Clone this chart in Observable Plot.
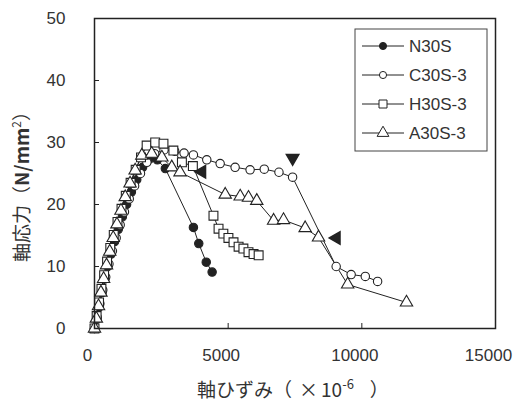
<!DOCTYPE html>
<html><head><meta charset="utf-8">
<script src="https://cdn.jsdelivr.net/npm/d3@7"></script>
<script src="https://cdn.jsdelivr.net/npm/@observablehq/plot@0.6"></script>
<style>body{margin:0;background:#fff} svg{display:block}</style>
</head><body><div id="chart"></div>
<script>
const seriesNames = ["N30S", "C30S-3", "H30S-3", "A30S-3"];

const n30sX = [0, 90, 180, 280, 390, 500, 620, 750, 890, 1040, 1200, 1380, 1580, 1800, 2050, 2350, 2650, 3700, 3900, 4180, 4400];
const n30sY = [0, 1.5, 3.5, 5.8, 8.0, 10.0, 12.0, 14.0, 16.0, 18.0, 20.0, 22.0, 24.0, 26.0, 27.3, 27.2, 25.8, 16.3, 13.7, 10.7, 9.1];

const c30sX = [0, 100, 200, 310, 420, 540, 670, 810, 960, 1120, 1300, 1500, 1720, 1960, 2250, 2600, 3000, 3350, 3700, 4200, 4700, 5260, 5820, 6350, 6900, 7410, 9040, 9600, 10130, 10590];
const c30sY = [0, 1.8, 4.0, 6.2, 8.3, 10.4, 12.5, 14.6, 16.7, 18.8, 20.9, 23.0, 25.0, 26.8, 28.2, 28.8, 28.6, 28.3, 28.0, 27.2, 26.6, 26.0, 25.6, 25.7, 25.2, 24.4, 10.0, 8.7, 8.4, 7.6];

const h30sX = [0, 80, 170, 260, 360, 470, 590, 720, 860, 1010, 1170, 1350, 1540, 1740, 1950, 2270, 2580, 2950, 3270, 3680, 4450, 4640, 4820, 5010, 5200, 5390, 5570, 5760, 5950, 6140];
const h30sY = [0, 2.0, 4.2, 6.4, 8.6, 10.8, 13.0, 15.1, 17.2, 19.3, 21.4, 23.5, 25.6, 27.6, 29.5, 30.0, 29.8, 28.7, 26.8, 26.2, 18.2, 16.1, 15.3, 14.6, 13.9, 13.2, 12.9, 12.3, 12.0, 11.8];

const a30sX = [0, 70, 150, 240, 340, 450, 570, 700, 840, 990, 1150, 1330, 1520, 1770, 2140, 2520, 2890, 3200, 4890, 5450, 5760, 6070, 6700, 7070, 7880, 8380, 9470, 11670];
const a30sY = [0, 1.6, 3.6, 5.8, 8.0, 10.2, 12.4, 14.6, 16.8, 19.0, 21.2, 23.4, 25.5, 27.9, 28.2, 27.6, 26.0, 25.2, 21.6, 21.3, 21.1, 20.6, 17.4, 17.5, 16.2, 14.7, 7.1, 4.2];

// filled triangle markers (annotations)
const markX = [4020, 7410, 9050];
const markY = [25.3, 27.5, 14.6];
const markDir = ["left", "down", "left"];

const xTickValues = [0, 5000, 10000, 15000];
const yTickValues = [0, 10, 20, 30, 40, 50];
const xInnerTicks = [5000, 10000];
const yInnerTicks = [10, 20, 30, 40];

const seriesX = [n30sX, c30sX, h30sX, a30sX];
const seriesY = [n30sY, c30sY, h30sY, a30sY];
const symbols = ["circle", "circle", "square", "triangle"];
const fills = ["#222", "white", "white", "white"];
const radii = [4.2, 4.2, 5, 4.6];

const rows = [];
seriesNames.forEach((s, i) => seriesX[i].forEach((x, j) => rows.push({series: s, x, y: seriesY[i][j]})));
const marks = markX.map((x, i) => ({x, y: markY[i], rot: markDir[i] === "down" ? 180 : -90}));

const W = 521, H = 403, ML = 94, MR = 26, MT = 18, MB = 75;
const plotW = W - ML - MR, plotH = H - MT - MB;
const ink = "#222";
const font = "'Liberation Sans', Arial, sans-serif";

const plot = Plot.plot({
  width: W, height: H,
  marginLeft: ML, marginRight: MR, marginTop: MT, marginBottom: MB,
  style: {fontFamily: font, background: "white", color: "#333"},
  x: {domain: [0, 15000]},
  y: {domain: [0, 50]},
  marks: [
    Plot.line(rows, {x: "x", y: "y", z: "series", stroke: ink, strokeWidth: 1}),
    ...seriesNames.map((s, i) => Plot.dot(rows.filter(d => d.series === s), {
      x: "x", y: "y", symbol: symbols[i], r: radii[i], fill: fills[i], stroke: ink, strokeWidth: 1.1
    })),
    Plot.dot(marks, {x: "x", y: "y", symbol: "triangle", rotate: "rot", r: 4.6, fill: ink, stroke: ink}),
    Plot.tickY(yInnerTicks, {y: d => d, insetRight: plotW - 5, stroke: ink}),
    Plot.tickX(xInnerTicks, {x: d => d, insetTop: plotH - 5, stroke: ink}),
    Plot.frame({stroke: ink, strokeWidth: 1.5}),
    Plot.axisX({ticks: xTickValues, tickSize: 0, tickPadding: 20, dx: -7, fontSize: 17, label: null, tickFormat: d => String(d)}),
    Plot.axisY({ticks: yTickValues, tickSize: 0, tickPadding: 29, fontSize: 17, label: null, tickFormat: d => String(d)})
  ]
});

const svg = d3.select(plot);
const cjk = "'Noto Sans CJK JP', 'Liberation Sans', sans-serif";

// x axis title
const xt = svg.append("text").attr("x", 197).attr("y", 397).attr("text-anchor", "start")
  .attr("font-family", cjk).attr("font-size", 19).attr("fill", "#333");
xt.append("tspan").text("軸ひずみ（");
xt.append("tspan").attr("dx", 7).text("×");
xt.append("tspan").attr("dx", 3).text("10");
xt.append("tspan").attr("dy", -8).attr("font-size", 13).text("-6");
xt.append("tspan").attr("dy", 8).attr("dx", 16).text("）");

// y axis title
const yt = svg.append("text").attr("transform", "translate(29,182) rotate(-90)").attr("text-anchor", "middle")
  .attr("font-family", cjk).attr("font-size", 19).attr("fill", "#333");
yt.append("tspan").text("軸応力（");
yt.append("tspan").attr("font-weight", "bold").text("N/mm");
yt.append("tspan").attr("dy", -8).attr("font-size", 12).text("2");
yt.append("tspan").attr("dy", 8).text("）");

// legend
const lg = svg.append("g").attr("text-anchor", "start");
lg.append("rect").attr("x", 355).attr("y", 29).attr("width", 132).attr("height", 122)
  .attr("fill", "white").attr("stroke", "#444").attr("stroke-width", 1);
const legSyms = [d3.symbolCircle, d3.symbolCircle, d3.symbolSquare, d3.symbolTriangle];
const legSizes = [40, 40, 64, 60];
seriesNames.forEach((s, i) => {
  const cy = 46 + i * 29;
  lg.append("line").attr("x1", 362).attr("x2", 404).attr("y1", cy).attr("y2", cy).attr("stroke", ink);
  lg.append("path").attr("d", d3.symbol(legSyms[i], legSizes[i])()).attr("transform", `translate(383,${cy})`)
    .attr("fill", fills[i]).attr("stroke", ink);
  lg.append("text").attr("x", 409).attr("y", cy).attr("dy", "0.35em").attr("text-anchor", "start")
    .attr("font-family", font).attr("font-size", 17).attr("fill", "#333").text(s);
});

document.getElementById("chart").appendChild(plot);
</script></body></html>
